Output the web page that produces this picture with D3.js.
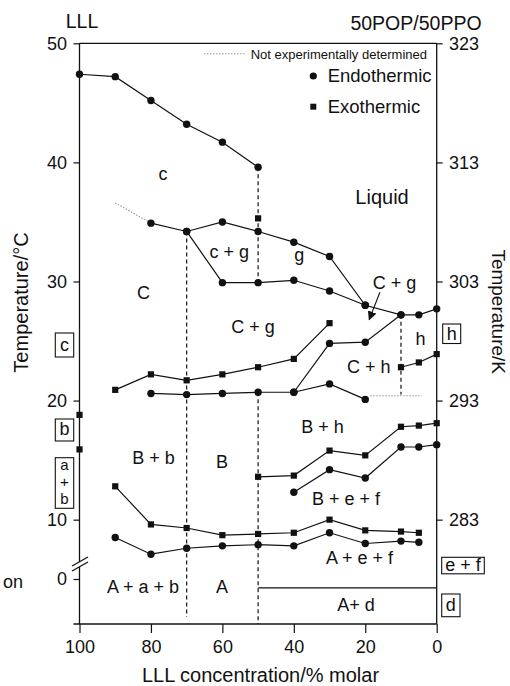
<!DOCTYPE html>
<html>
<head>
<meta charset="utf-8">
<script src="https://cdn.jsdelivr.net/npm/d3@7/dist/d3.min.js"></script>
<style>
  html, body { margin: 0; padding: 0; background: #fff; }
  svg { display: block; font-family: "Liberation Sans", Arial, Helvetica, sans-serif; }
</style>
</head>
<body>
<svg id="chart" width="510" height="686"></svg>
<script>
// ---- Phase diagram data: LLL concentration (% molar) vs temperature (°C) ----
const liquidusX = [100, 90, 80, 70, 60, 50];
const liquidusT = [47.4, 47.2, 45.2, 43.2, 41.7, 39.6];

const cUpperX = [80, 70, 60, 50, 40, 30, 20, 10, 5, 0];
const cUpperT = [34.9, 34.2, 35.0, 34.2, 33.3, 32.1, 28.0, 27.2, 27.2, 27.7];

const cgLowerX = [70, 60, 50, 40, 30, 20];
const cgLowerT = [34.2, 29.9, 29.9, 30.1, 29.2, 28.0];

const exoUpperX = [90, 80, 70, 60, 50, 40, 30];
const exoUpperT = [20.9, 22.2, 21.7, 22.2, 22.8, 23.5, 26.5];

const endoMidX = [80, 70, 60, 50, 40, 30, 20];
const endoMidT = [20.6, 20.5, 20.6, 20.7, 20.7, 21.4, 20.1];

const chX = [40, 30, 20, 10];
const chT = [20.7, 24.8, 24.9, 27.2];

const hExoX = [10, 5, 0];
const hExoT = [22.8, 23.2, 23.9];

const befExoX = [50, 40, 30, 20, 10, 5, 0];
const befExoT = [13.6, 13.7, 15.8, 15.4, 17.8, 17.9, 18.1];

const befEndoX = [40, 30, 20, 10, 5, 0];
const befEndoT = [12.3, 14.2, 13.5, 16.1, 16.1, 16.3];

const aefExoX = [90, 80, 70, 60, 50, 40, 30, 20, 10, 5];
const aefExoT = [12.8, 9.6, 9.3, 8.7, 8.8, 8.9, 10.0, 9.1, 9.0, 8.9];

const aefEndoX = [90, 80, 70, 60, 50, 40, 30, 20, 10, 5];
const aefEndoT = [8.5, 7.1, 7.6, 7.8, 7.9, 7.8, 8.9, 8.0, 8.2, 8.1];

// isolated exothermic events
const loneExoX = [100, 100, 50];
const loneExoT = [18.8, 15.9, 35.3];

// not experimentally determined boundaries
const guessAX = [90, 80];
const guessAT = [36.6, 34.9];
const guessBX = [18.6, 4.2];
const guessBT = [20.4, 20.4];

// vertical (dashed) boundaries
const dashX = [50, 50, 70, 10];
const dashFrom = [39.6, 20.7, 34.2, 27.2];
const dashTo = [29.9, -3.8, -3.2, 20.5];

// lower horizontal boundary of the A + d field
const adX = [50, 0];
const adT = [-0.75, -0.75];

// phase field labels
const regionText = ["c", "Liquid", "c + g", "g", "C", "C + g", "C + g", "C + h", "h", "B + h",
                    "B + b", "B", "B + e + f", "A + e + f", "A + a + b", "A", "A+ d"];
const regionX = [76.6, 15.3, 58.1, 38.5, 82.1, 51.4, 11.8, 19.0, 4.5, 32.0,
                 79.3, 60.1, 25.4, 21.6, 82.2, 60.1, 22.6];
const regionT = [38.5, 36.5, 32.0, 31.7, 28.5, 25.7, 29.4, 22.3, 24.7, 17.3,
                 14.7, 14.3, 11.2, 6.25, -1.15, -1.15, -2.69];

// tick labels
const xTicks = [100, 80, 60, 40, 20, 0];
const yTicksC = [0, 10, 20, 30, 40, 50];
const yTicksK = [10, 20, 30, 40, 50];
const kLabels = ["283", "293", "303", "313", "323"];

// ---- scales ----
const svg = d3.select("#chart");
const plotL = 79.5, plotR = 436.7, plotT = 43.3, plotB = 624;
const x = d3.scaleLinear().domain([100, 0]).range([plotL, plotR]);
// broken temperature axis: compressed between 0 and 6 °C
const y = d3.scaleLinear().domain([-3.8, 0, 6, 50]).range([plotB, 579, 567.3, plotT]);

const zip = (xs, ts) => xs.map((v, i) => [v, ts[i]]);
const line = d3.line().x(d => x(d[0])).y(d => y(d[1]));
const ink = "#111";
const fontTick = 18;

// ---- frame ----
const frame = svg.append("g").attr("stroke", ink).attr("stroke-width", 1.3).attr("fill", "none");
frame.append("line").attr("x1", plotL).attr("x2", plotR).attr("y1", plotT).attr("y2", plotT);
frame.append("line").attr("x1", plotR).attr("x2", plotR).attr("y1", plotT).attr("y2", plotB);
frame.append("line").attr("x1", plotL - 6).attr("x2", plotR).attr("y1", plotB).attr("y2", plotB);
// left axis, interrupted at the break
frame.append("line").attr("x1", plotL).attr("x2", plotL).attr("y1", plotT).attr("y2", 561.8);
frame.append("line").attr("x1", plotL).attr("x2", plotL).attr("y1", 566.8).attr("y2", plotB);
frame.append("line").attr("x1", 72).attr("x2", 88).attr("y1", 566).attr("y2", 557);
frame.append("line").attr("x1", 72).attr("x2", 88).attr("y1", 571).attr("y2", 562);

// ---- axes ----
function styleAxis(g) {
  g.select(".domain").remove();
  g.selectAll(".tick line").attr("stroke", ink).attr("stroke-width", 1.2);
  g.selectAll(".tick text").attr("fill", ink).attr("font-size", fontTick)
    .attr("font-family", "Liberation Sans, Arial, Helvetica, sans-serif");
}
svg.append("g").attr("transform", `translate(${plotL},0)`)
  .call(d3.axisLeft(y).tickValues(yTicksC).tickSize(6).tickPadding(6.5).tickFormat(d3.format("d")))
  .call(styleAxis);
svg.append("g").attr("transform", `translate(${plotR},0)`)
  .call(d3.axisRight(y).tickValues(yTicksK).tickSize(6).tickPadding(6.3)
    .tickFormat((d, i) => kLabels[i]))
  .call(styleAxis);
svg.append("g").attr("transform", `translate(0,${plotB})`)
  .call(d3.axisBottom(x).tickValues(xTicks).tickSize(9).tickPadding(7).tickFormat(d3.format("d")))
  .call(styleAxis);

// ---- boundaries ----
const solid = [
  zip(liquidusX, liquidusT), zip(cUpperX, cUpperT), zip(cgLowerX, cgLowerT),
  zip(exoUpperX, exoUpperT), zip(endoMidX, endoMidT), zip(chX, chT), zip(hExoX, hExoT),
  zip(befExoX, befExoT), zip(befEndoX, befEndoT), zip(aefExoX, aefExoT), zip(aefEndoX, aefEndoT),
  zip(adX, adT)
];
svg.append("g").selectAll("path").data(solid).join("path")
  .attr("d", line).attr("fill", "none").attr("stroke", ink).attr("stroke-width", 1.2);

svg.append("g").selectAll("path").data([zip(guessAX, guessAT), zip(guessBX, guessBT)]).join("path")
  .attr("d", line).attr("fill", "none").attr("stroke", "#999").attr("stroke-width", 1.1)
  .attr("stroke-dasharray", "1.5,1.5");

svg.append("g").selectAll("line").data(dashX.map((v, i) => [v, dashFrom[i], dashTo[i]])).join("line")
  .attr("x1", d => x(d[0])).attr("x2", d => x(d[0]))
  .attr("y1", d => y(d[1])).attr("y2", d => y(d[2]))
  .attr("stroke", ink).attr("stroke-width", 1.2).attr("stroke-dasharray", "4,3");

// ---- markers ----
const endoPts = [].concat(
  zip(liquidusX, liquidusT), zip(cUpperX, cUpperT), zip(cgLowerX, cgLowerT),
  zip(endoMidX, endoMidT), zip(chX, chT), zip(befEndoX, befEndoT), zip(aefEndoX, aefEndoT));
const exoPts = [].concat(
  zip(exoUpperX, exoUpperT), zip(hExoX, hExoT), zip(befExoX, befExoT),
  zip(aefExoX, aefExoT), zip(loneExoX, loneExoT));
const sq = 6.2;
svg.append("g").selectAll("circle").data(endoPts).join("circle")
  .attr("cx", d => x(d[0])).attr("cy", d => y(d[1])).attr("r", 3.7).attr("fill", ink);
svg.append("g").selectAll("rect").data(exoPts).join("rect")
  .attr("x", d => x(d[0]) - sq / 2).attr("y", d => y(d[1]) - sq / 2)
  .attr("width", sq).attr("height", sq).attr("fill", ink);

// ---- arrow to the narrow C + g field ----
svg.append("defs").append("marker").attr("id", "head")
  .attr("viewBox", "0 0 10 10").attr("refX", 9).attr("refY", 5)
  .attr("markerWidth", 9).attr("markerHeight", 9).attr("markerUnits", "userSpaceOnUse")
  .attr("orient", "auto")
  .append("path").attr("d", "M0,0 L10,5 L0,10 z").attr("fill", ink);
svg.append("line")
  .attr("x1", x(15.9)).attr("y1", y(29.1)).attr("x2", x(18.9)).attr("y2", y(26.8))
  .attr("stroke", ink).attr("stroke-width", 1.1).attr("marker-end", "url(#head)");

// ---- phase field labels ----
svg.append("g").selectAll("text").data(regionText).join("text")
  .attr("x", (d, i) => x(regionX[i])).attr("y", (d, i) => y(regionT[i]))
  .attr("text-anchor", "middle").attr("fill", ink)
  .attr("font-size", d => d === "Liquid" ? 20 : 18)
  .text(d => d);

// ---- boxed pure-component phases outside the frame ----
const boxes = [
  { lines: ["c"], x: 55.3, y: 333, w: 18.4, h: 24, base: 350.7, fs: 18, lh: 0 },
  { lines: ["b"], x: 55.3, y: 419, w: 18.4, h: 22, base: 435, fs: 18, lh: 0 },
  { lines: ["a", "+", "b"], x: 55.3, y: 457.7, w: 18.4, h: 50.6, base: 469.5, fs: 15, lh: 17.3 },
  { lines: ["h"], x: 442.7, y: 324, w: 18, h: 19.5, base: 340, fs: 18, lh: 0 },
  { lines: ["e + f"], x: 441.7, y: 557.3, w: 42.6, h: 16.5, base: 571, fs: 18, lh: 0 },
  { lines: ["d"], x: 441.7, y: 594, w: 18.3, h: 22.7, base: 611, fs: 18, lh: 0 }
];
const bg = svg.append("g");
boxes.forEach(b => {
  bg.append("rect").attr("x", b.x).attr("y", b.y).attr("width", b.w).attr("height", b.h)
    .attr("fill", "none").attr("stroke", ink).attr("stroke-width", 1.1);
  b.lines.forEach((s, i) => {
    bg.append("text").attr("x", b.x + b.w / 2).attr("y", b.base + i * b.lh)
      .attr("text-anchor", "middle").attr("font-size", b.fs).attr("fill", ink).text(s);
  });
});

// ---- titles ----
svg.append("text").attr("x", 82).attr("y", 28.3).attr("text-anchor", "middle")
  .attr("font-size", 19.5).attr("fill", ink).text("LLL");
svg.append("text").attr("x", 416).attr("y", 30).attr("text-anchor", "middle")
  .attr("font-size", 19.5).attr("fill", ink).text("50POP/50PPO");
svg.append("text").attr("transform", "translate(28,302.5) rotate(-90)")
  .attr("text-anchor", "middle").attr("font-size", 20).attr("fill", ink).text("Temperature/°C");
svg.append("text").attr("transform", "translate(492,311.7) rotate(90)")
  .attr("text-anchor", "middle").attr("font-size", 19).attr("fill", ink).text("Temperature/K");
svg.append("text").attr("x", 260.5).attr("y", 682).attr("text-anchor", "middle")
  .attr("font-size", 20).attr("fill", ink).text("LLL concentration/% molar");
svg.append("text").attr("x", 23).attr("y", 588.3).attr("text-anchor", "end")
  .attr("font-size", 18).attr("fill", ink).text("on");

// ---- legend ----
const lg = svg.append("g");
lg.append("line").attr("x1", 204).attr("x2", 245).attr("y1", 53.7).attr("y2", 53.7)
  .attr("stroke", "#999").attr("stroke-width", 1.1).attr("stroke-dasharray", "1.5,1.5");
lg.append("text").attr("x", 250.7).attr("y", 58.5).attr("font-size", 13).attr("fill", ink)
  .text("Not experimentally determined");
lg.append("circle").attr("cx", 313.3).attr("cy", 76).attr("r", 3.6).attr("fill", ink);
lg.append("text").attr("x", 327.7).attr("y", 81.7).attr("font-size", 18.5).attr("fill", ink)
  .text("Endothermic");
lg.append("rect").attr("x", 313.3 - 3).attr("y", 106.7 - 3).attr("width", 6).attr("height", 6)
  .attr("fill", ink);
lg.append("text").attr("x", 327.7).attr("y", 113.3).attr("font-size", 18.5).attr("fill", ink)
  .text("Exothermic");
</script>
</body>
</html>
